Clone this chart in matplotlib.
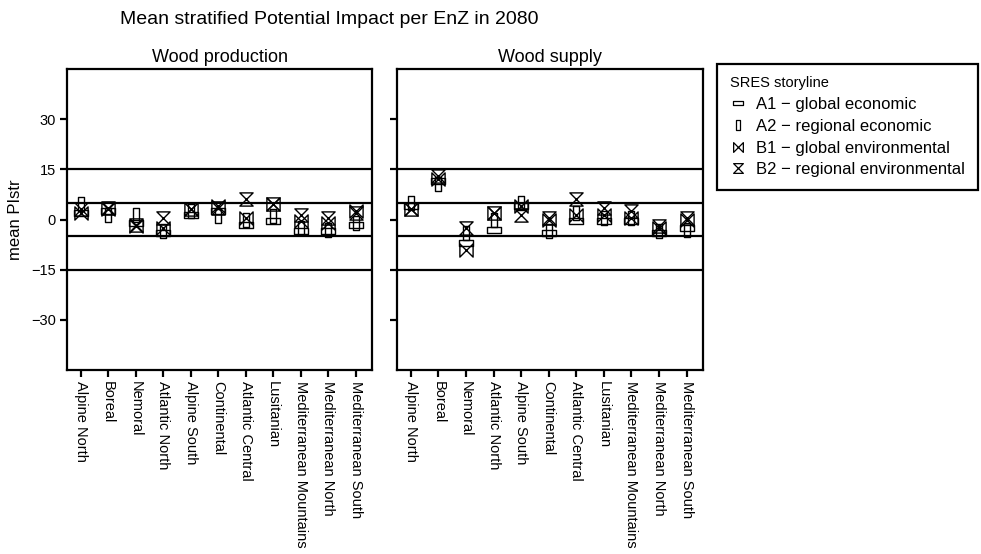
import matplotlib
matplotlib.use('Agg')
import matplotlib.pyplot as plt
from matplotlib.path import Path
from matplotlib.lines import Line2D
import numpy as np

plt.rcParams['font.family'] = ['Liberation Sans', 'DejaVu Sans']

zones = ['Alpine North', 'Boreal', 'Nemoral', 'Atlantic North', 'Alpine South',
         'Continental', 'Atlantic Central', 'Lusitanian', 'Mediterranean Mountains',
         'Mediterranean North', 'Mediterranean South']
panels = ['Wood production', 'Wood supply']
storylines = ['A1 \u2212 global economic', 'A2 \u2212 regional economic',
              'B1 \u2212 global environmental', 'B2 \u2212 regional environmental']

# mean PIstr per zone
prod_a1 = [2.0, 2.5, -1.0, -4.0, 1.5, 2.5, -1.5, -0.5, -3.5, -3.5, -1.5]
prod_a2 = [4.5, 1.5, 1.5, -3.5, 2.5, 1.0, 0.0, 1.0, -2.5, -3.0, -1.0]
prod_b1 = [2.0, 3.0, -2.0, -2.5, 3.0, 4.0, 0.5, 4.5, -0.5, -1.0, 2.5]
prod_b2 = [3.0, 3.3, -1.5, 0.5, 3.0, 3.5, 6.0, 4.5, 1.5, 0.5, 2.0]

supp_a1 = [4.0, 11.5, -7.0, -3.0, 4.0, -4.0, -0.5, -0.5, -0.5, -4.0, -2.5]
supp_a2 = [5.0, 10.5, -4.0, 0.0, 5.0, -3.5, 2.0, 0.5, 0.5, -3.5, -3.0]
supp_b1 = [3.0, 12.0, -9.0, 2.0, 4.0, 0.0, 1.5, 1.5, 0.5, -2.5, 0.0]
supp_b2 = [3.0, 13.0, -2.5, 2.0, 1.5, 0.5, 6.0, 3.5, 2.5, -2.0, 0.5]

ref_lines = [15, 5, -5, -15]
yticks = [30, 15, 0, -15, -30]

# custom symbols
m_a1 = Path([(-1, -0.45), (1, -0.45), (1, 0.45), (-1, 0.45), (-1, -0.45)],
            [1, 2, 2, 2, 79])
m_a2 = Path([(-0.45, -1), (0.45, -1), (0.45, 1), (-0.45, 1), (-0.45, -1)],
            [1, 2, 2, 2, 79])
m_b1 = Path([(-1, -1), (1, 1), (1, -1), (-1, 1), (-1, -1)], [1, 2, 2, 2, 79])
m_b2 = Path([(-1, 1), (1, 1), (-1, -1), (1, -1), (-1, 1)], [1, 2, 2, 2, 79])
markers = [m_a1, m_a2, m_b1, m_b2]

data = [[prod_a1, prod_a2, prod_b1, prod_b2],
        [supp_a1, supp_a2, supp_b1, supp_b2]]

fig = plt.figure(figsize=(9.81, 5.54), dpi=100)
ax1 = fig.add_axes([0.0683, 0.332, 0.311, 0.5435])
ax2 = fig.add_axes([0.4047, 0.332, 0.312, 0.5435])

x = np.arange(1, len(zones) + 1)
for i, ax in enumerate([ax1, ax2]):
    for y in ref_lines:
        ax.axhline(y, color='black', lw=1.6, zorder=1)
    for vals, m in zip(data[i], markers):
        ax.plot(x, vals, ls='none', marker=m, ms=9.5, mfc='none', mec='black',
                mew=1.0, zorder=3)
    ax.set_xlim(0.5, 11.6)
    ax.set_ylim(-45, 45)
    ax.set_yticks(yticks)
    ax.set_xticks(x)
    ax.set_xticklabels(zones, rotation=-90, va='top', ha='center', fontsize=10.5)
    ax.tick_params(axis='both', direction='out', length=5, width=1.6,
                   top=False, right=False, labelsize=10.5, pad=3)
    for sp in ax.spines.values():
        sp.set_linewidth(1.6)
    ax.set_title(panels[i], fontsize=13, pad=5)

ax2.set_yticklabels([])
ax1.set_ylabel('mean PIstr', fontsize=12, labelpad=6)

fig.text(120 / 981, 1 - 20 / 554, 'Mean stratified Potential Impact per EnZ in 2080',
         fontsize=14, ha='left', va='center')

handles = [Line2D([], [], ls='none', marker=m, ms=7, mfc='none', mec='black', mew=0.9)
           for m in markers]
leg = fig.legend(handles, storylines, title='SRES storyline', loc='upper left',
                 bbox_to_anchor=(717 / 981, 1 - 64 / 554), fontsize=12,
                 title_fontsize=10.5, frameon=True, fancybox=False, framealpha=1,
                 handlelength=1.0, handletextpad=0.6, labelspacing=0.4,
                 borderpad=0.75, borderaxespad=0, alignment='left')
leg.get_frame().set_edgecolor('black')
leg.get_frame().set_linewidth(1.6)

fig.savefig('out.png', dpi=100)
